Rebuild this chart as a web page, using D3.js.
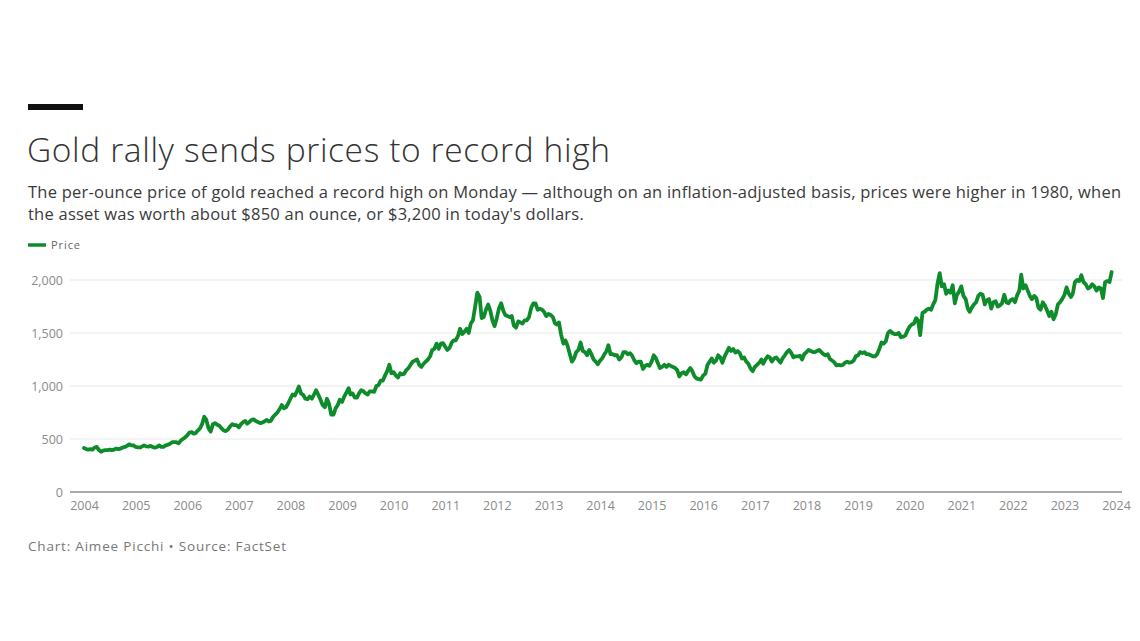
<!DOCTYPE html>
<html>
<head>
<meta charset="utf-8">
<script src="https://cdn.jsdelivr.net/npm/d3@7"></script>
<style>
  html, body { margin: 0; padding: 0; background: #fff; }
  svg { display: block; }
</style>
</head>
<body>
<svg id="chart" width="1140" height="641"></svg>
<script>
// ---- Data (semi-monthly gold price, USD/oz) ----
const years = [2004,2005,2006,2007,2008,2009,2010,2011,2012,2013,2014,2015,2016,2017,2018,2019,2020,2021,2022,2023];
const p2004 = [415,405,400,405,400,420,425,395,380,390,395,395,400,395,400,410,405,410,420,425,435,450,440,440];
const p2005 = [425,422,420,430,440,430,428,435,425,418,425,440,425,425,440,445,455,470,470,470,460,485,500,515];
const p2006 = [535,560,565,550,555,580,600,640,710,680,600,570,640,650,635,625,600,580,575,590,620,640,630,630];
const p2007 = [610,640,660,670,645,660,680,685,670,660,650,655,665,680,665,670,710,730,750,780,820,790,800,835];
const p2008 = [880,920,910,950,995,930,915,880,875,900,880,920,960,920,870,820,800,880,830,730,730,790,820,870];
const p2009 = [850,900,940,980,920,930,890,890,930,960,950,930,920,950,950,945,1000,1010,1050,1050,1100,1140,1200,1120];
const p2010 = [1130,1100,1080,1120,1110,1115,1150,1170,1200,1230,1240,1250,1200,1180,1210,1230,1250,1280,1340,1350,1400,1350,1400,1405];
const p2011 = [1370,1340,1360,1410,1430,1430,1470,1540,1490,1510,1540,1500,1590,1620,1750,1880,1840,1640,1650,1720,1770,1710,1620,1565];
const p2012 = [1640,1730,1780,1710,1670,1660,1650,1660,1570,1550,1610,1600,1590,1620,1620,1650,1740,1780,1780,1720,1730,1720,1700,1660];
const p2013 = [1680,1670,1650,1590,1580,1600,1480,1400,1430,1380,1300,1230,1260,1320,1340,1410,1330,1320,1290,1340,1300,1250,1230,1205];
const p2014 = [1240,1260,1300,1330,1385,1300,1300,1290,1290,1250,1270,1320,1320,1300,1310,1285,1240,1215,1230,1230,1160,1190,1200,1190];
const p2015 = [1230,1290,1260,1210,1170,1180,1200,1180,1200,1190,1180,1170,1150,1090,1120,1130,1110,1140,1170,1140,1090,1070,1065,1060];
const p2016 = [1100,1115,1200,1230,1260,1220,1240,1290,1270,1220,1280,1320,1360,1330,1350,1315,1330,1310,1260,1270,1230,1210,1165,1140];
const p2017 = [1180,1200,1220,1250,1210,1250,1280,1270,1230,1260,1270,1245,1220,1260,1290,1320,1340,1310,1270,1280,1280,1285,1250,1300];
const p2018 = [1320,1340,1330,1320,1320,1330,1340,1320,1300,1290,1300,1255,1240,1225,1195,1200,1195,1200,1220,1230,1220,1225,1240,1280];
const p2019 = [1290,1320,1310,1320,1300,1300,1290,1280,1280,1300,1350,1410,1400,1420,1500,1520,1500,1490,1490,1500,1460,1465,1475,1520];
const p2020 = [1560,1580,1590,1640,1620,1480,1690,1700,1720,1730,1720,1770,1810,1960,2065,1940,1960,1870,1900,1880,1950,1780,1860,1890];
const p2021 = [1940,1850,1820,1730,1700,1740,1770,1790,1850,1870,1860,1770,1810,1820,1730,1790,1800,1750,1760,1780,1860,1790,1780,1810];
const p2022 = [1820,1790,1860,1900,2050,1920,1950,1900,1850,1820,1850,1830,1740,1720,1790,1760,1710,1660,1700,1630,1680,1770,1790,1820];
const p2023 = [1860,1930,1870,1840,1870,1980,2000,1990,2045,1980,1960,1920,1930,1960,1940,1900,1930,1920,1830,1980,1990,1980,2075];
const yearSeries = [p2004,p2005,p2006,p2007,p2008,p2009,p2010,p2011,p2012,p2013,p2014,p2015,p2016,p2017,p2018,p2019,p2020,p2021,p2022,p2023];

const yTicks = [0, 500, 1000, 1500, 2000];
const xTickYears = [2004,2005,2006,2007,2008,2009,2010,2011,2012,2013,2014,2015,2016,2017,2018,2019,2020,2021,2022,2023,2024];

const titleText = "Gold rally sends prices to record high";
const subtitleLines = [
  "The per-ounce price of gold reached a record high on Monday \u2014 although on an inflation-adjusted basis, prices were higher in 1980, when",
  "the asset was worth about $850 an ounce, or $3,200 in today's dollars."
];
const legendLabel = "Price";
const sourceText = "Chart: Aimee Picchi \u2022 Source: FactSet";

// ---- Build series ----
const data = [];
years.forEach((yr, k) => {
  yearSeries[k].forEach((v, i) => {
    data.push({ date: new Date(yr, Math.floor(i / 2), i % 2 ? 16 : 1), value: v });
  });
});

const svg = d3.select("#chart");
const font = "'Open Sans', Lato, sans-serif";
const green = "#0e8c2b";

// fit a text element to a target width by adjusting letter spacing
function fitWidth(sel, target) {
  const node = sel.node();
  const w = node.getComputedTextLength();
  const n = node.textContent.length;
  if (n > 1) sel.attr("letter-spacing", ((target - w) / (n - 1)).toFixed(3));
  return sel;
}

// header
svg.append("rect").attr("x", 28).attr("y", 104).attr("width", 55).attr("height", 6).attr("fill", "#111");
const title = svg.append("text").attr("x", 27).attr("y", 162)
  .attr("font-family", font).attr("font-weight", 300).attr("font-size", 33.5).attr("fill", "#333")
  .text(titleText);
fitWidth(title, 583);

const sub1 = svg.append("text").attr("x", 28).attr("y", 198)
  .attr("font-family", font).attr("font-size", 16.5).attr("fill", "#3a3a3a").text(subtitleLines[0]);
fitWidth(sub1, 1093);
const ls = +sub1.attr("letter-spacing");
svg.append("text").attr("x", 28).attr("y", 220)
  .attr("font-family", font).attr("font-size", 16.5).attr("fill", "#3a3a3a")
  .attr("letter-spacing", ls).text(subtitleLines[1]);

// legend
svg.append("line").attr("x1", 28).attr("x2", 46).attr("y1", 245).attr("y2", 245)
  .attr("stroke", green).attr("stroke-width", 3.5);
const leg = svg.append("text").attr("x", 51).attr("y", 249).attr("font-family", font).attr("font-size", 11)
  .attr("fill", "#666").text(legendLabel);
fitWidth(leg, 29);

// scales
const x = d3.scaleTime().domain([new Date(2004, 0, 1), new Date(2024, 0, 1)]).range([84, 1116]);
const y = d3.scaleLinear().domain([0, 2000]).range([492, 280]);

// grid
const grid = svg.append("g");
grid.selectAll("line").data(yTicks.filter(d => d > 0)).join("line")
  .attr("x1", 70).attr("x2", 1122)
  .attr("y1", d => y(d)).attr("y2", d => y(d))
  .attr("stroke", "#e6e6e6").attr("stroke-width", 1);

// y axis
const yAxis = svg.append("g").attr("transform", "translate(63,0)")
  .call(d3.axisLeft(y).tickValues(yTicks).tickSize(0).tickPadding(0).tickFormat(d3.format(",")));
yAxis.select(".domain").remove();
yAxis.selectAll("text").attr("font-family", font).attr("font-size", 12.5).attr("fill", "#8a8a8a");

// baseline
svg.append("line").attr("x1", 70).attr("x2", 1122).attr("y1", y(0)).attr("y2", y(0))
  .attr("stroke", "#555").attr("stroke-width", 1.2);

// x axis
const xAxis = svg.append("g").attr("transform", `translate(0,${y(0)})`)
  .call(d3.axisBottom(x).tickValues(xTickYears.map(yr => new Date(yr, 0, 1)))
    .tickSize(0).tickPadding(9).tickFormat(d3.timeFormat("%Y")));
xAxis.select(".domain").remove();
xAxis.selectAll("text").attr("font-family", font).attr("font-size", 12.5).attr("fill", "#8a8a8a");

// line
const line = d3.line().x(d => x(d.date)).y(d => y(d.value)).curve(d3.curveLinear);
svg.append("path").datum(data).attr("d", line)
  .attr("fill", "none").attr("stroke", green).attr("stroke-width", 3.8)
  .attr("stroke-linejoin", "round").attr("stroke-linecap", "round");

// footer
const foot = svg.append("text").attr("x", 28).attr("y", 551).attr("font-family", font).attr("font-size", 13.5)
  .attr("fill", "#777").text(sourceText);
fitWidth(foot, 258);
</script>
</body>
</html>
